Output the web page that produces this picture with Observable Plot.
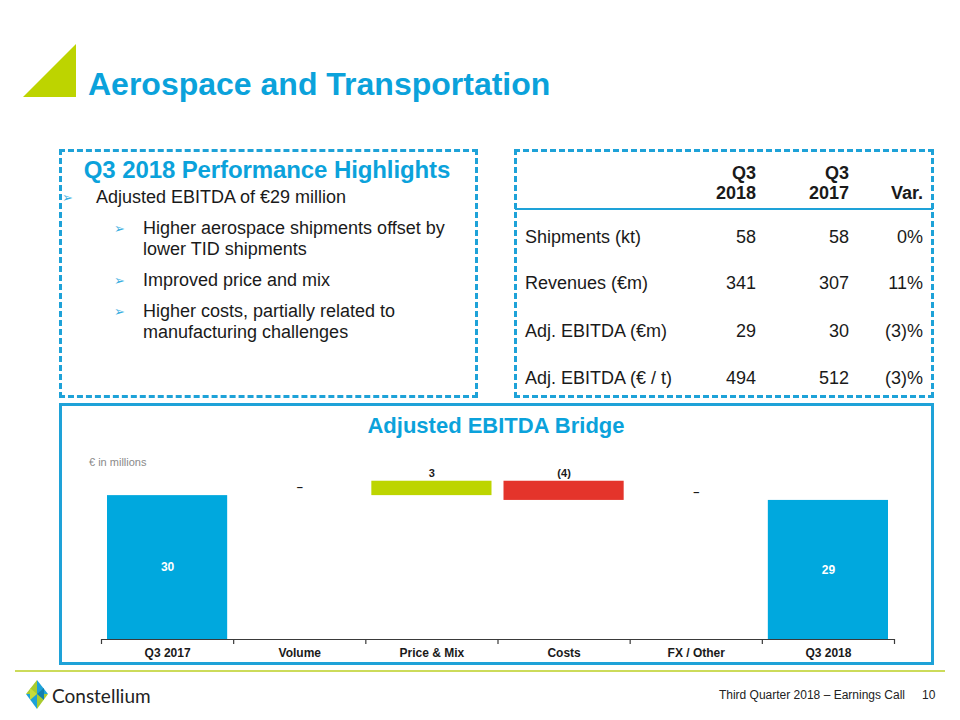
<!DOCTYPE html>
<html>
<head>
<meta charset="utf-8">
<script src="https://cdn.jsdelivr.net/npm/d3@7"></script>
<script src="https://cdn.jsdelivr.net/npm/@observablehq/plot@0.6"></script>
<style>
  html, body { margin: 0; padding: 0; background: #fff; }
  body { width: 960px; height: 720px; position: relative; overflow: hidden;
         font-family: "Liberation Sans", Arial, sans-serif; color: #1a1a1a; }
  .abs { position: absolute; white-space: nowrap; }
  .t { line-height: 22px; height: 22px; font-size: 18px; }
  .r { text-align: right; }
  .b { font-weight: bold; }
  .dash { position: absolute; border: 3px dashed #1EA2D8; box-sizing: border-box; }
  .arrow { color: #3AAEDF; font-family: "DejaVu Sans", sans-serif; font-size: 13px; line-height: 22px; }
</style>
</head>
<body>
<!-- title -->
<svg class="abs" style="left:0;top:0" width="100" height="110">
  <polygon points="23,97 76,44 76,97" fill="#BDD400"></polygon>
</svg>
<div class="abs b" style="left:88px;top:64px;font-size:32px;line-height:40px;color:#0BA2DB;">Aerospace and Transportation</div>

<!-- highlights box -->
<div class="dash" style="left:59px;top:149px;width:419px;height:249px;"></div>
<div class="abs b" style="left:60px;width:414px;text-align:center;top:156px;font-size:24px;line-height:28px;color:#0BA2DB;letter-spacing:-0.1px;">Q3 2018 Performance Highlights</div>
<div class="abs arrow" style="left:62px;top:187px;">➢</div>
<div class="abs t" style="left:96px;top:186px;">Adjusted EBITDA of €29 million</div>
<div class="abs arrow" style="left:114px;top:218px;">➢</div>
<div class="abs t" style="left:143px;top:217px;">Higher aerospace shipments offset by</div>
<div class="abs t" style="left:143px;top:238px;">lower TID shipments</div>
<div class="abs arrow" style="left:114px;top:270px;">➢</div>
<div class="abs t" style="left:143px;top:269px;">Improved price and mix</div>
<div class="abs arrow" style="left:114px;top:301px;">➢</div>
<div class="abs t" style="left:143px;top:300px;">Higher costs, partially related to</div>
<div class="abs t" style="left:143px;top:321px;">manufacturing challenges</div>

<!-- table box -->
<div class="dash" style="left:514px;top:149px;width:420px;height:249px;"></div>
<div id="table"></div>

<!-- chart frame -->
<div id="chart" class="abs" style="left:60px;top:404px;width:872px;height:260px;"></div>
<div class="abs b" style="left:60px;width:872px;text-align:center;top:412px;font-size:22px;line-height:28px;color:#0BA2DB;">Adjusted EBITDA Bridge</div>
<div class="abs" style="left:89px;top:455px;font-size:11px;line-height:14px;color:#8a8a8a;">€ in millions</div>
<div class="abs" style="left:59px;top:403px;width:875px;height:262px;border:3px solid #1EA2D8;box-sizing:border-box;pointer-events:none;"></div>

<!-- footer -->
<div class="abs" style="left:15px;top:670px;width:930px;height:2px;background:#CCDB5A;"></div>
<svg class="abs" style="left:24px;top:678px" width="26" height="34">
  <polygon points="13,2 24,16 13,16" fill="#1EA2D8"></polygon>
  <polygon points="13,2 2,16 13,16" fill="#A9CB2E"></polygon>
  <polygon points="2,16 13,16 13,31" fill="#1EA2D8"></polygon>
  <polygon points="13,16 24,16 13,31" fill="#A9CB2E"></polygon>
  <polygon points="6,10 13,16 6,22" fill="#C7DC3A"></polygon>
  <polygon points="13,16 20,10 20,22" fill="#127FAF"></polygon>
</svg>
<div class="abs" style="left:52px;top:684px;font-family:Lato, 'Open Sans', sans-serif;font-size:19px;line-height:24px;color:#222;">Constellium</div>
<div class="abs" style="right:55px;top:688px;font-size:12px;line-height:14px;color:#222;">Third Quarter 2018 – Earnings Call</div>
<div class="abs" style="left:922px;top:688px;font-size:12px;line-height:14px;color:#222;">10</div>

<script>
// ---------- table data ----------
const tableColumns = ["Q3\n2018", "Q3\n2017", "Var."];
const tableRows = ["Shipments (kt)", "Revenues (€m)", "Adj. EBITDA (€m)", "Adj. EBITDA (€ / t)"];
const q3_2018 = ["58", "341", "29", "494"];
const q3_2017 = ["58", "307", "30", "512"];
const variation = ["0%", "11%", "(3)%", "(3)%"];

// ---------- chart data ----------
const categories = ["Q3 2017", "Volume", "Price & Mix", "Costs", "FX / Other", "Q3 2018"];
const values = [30, 0, 3, -4, 0, 29];
const kinds = ["total", "delta", "delta", "delta", "delta", "total"];
const valueLabels = ["30", "–", "3", "(4)", "–", "29"];

// ---------- build table ----------
(function () {
  const host = document.getElementById("table");
  const colRight = [756, 849, 923];
  const rowCenters = [237, 283, 331, 378];
  function add(txt, style, cls) {
    const d = document.createElement("div");
    d.className = "abs t " + (cls || "");
    d.textContent = txt;
    Object.assign(d.style, style);
    host.appendChild(d);
  }
  tableColumns.forEach((c, j) => {
    const lines = c.split("\n");
    const right = (960 - colRight[j]) + "px";
    if (lines.length === 2) {
      add(lines[0], { right, top: (173 - 11) + "px" }, "b r");
      add(lines[1], { right, top: (193 - 11) + "px" }, "b r");
    } else {
      add(lines[0], { right, top: (193 - 11) + "px" }, "b r");
    }
  });
  const rule = document.createElement("div");
  rule.className = "abs";
  Object.assign(rule.style, { left: "515px", top: "208px", width: "418px", height: "2px", background: "#1EA2D8" });
  host.appendChild(rule);
  tableRows.forEach((r, i) => {
    const top = (rowCenters[i] - 11) + "px";
    add(r, { left: "525px", top });
    [q3_2018, q3_2017, variation].forEach((col, j) => {
      add(col[i], { right: (960 - colRight[j]) + "px", top }, "r");
    });
  });
})();

// ---------- waterfall ----------
let running = 0;
const bars = categories.map((cat, i) => {
  let y1, y2;
  if (kinds[i] === "total") { y1 = 0; y2 = values[i]; running = values[i]; }
  else { y1 = running; y2 = running + values[i]; running = y2; }
  const color = kinds[i] === "total" ? "#00A8DE" : (values[i] >= 0 ? "#BDD500" : "#E4342B");
  return { i, cat, y1, y2, color, label: valueLabels[i], kind: kinds[i] };
});
const totals = bars.filter(d => d.kind === "total");
const deltas = bars.filter(d => d.kind === "delta");
const boundaries = d3.range(categories.length + 1);

const chart = Plot.plot({
  width: 872,
  height: 260,
  marginLeft: 41,
  marginRight: 38,
  marginTop: 0,
  marginBottom: 25,
  style: { background: "transparent", fontFamily: "'Liberation Sans', Arial, sans-serif" },
  x: { domain: [0, categories.length], axis: null, label: null },
  y: { domain: [0, 49], axis: null, label: null },
  marks: [
    Plot.rectY(bars.filter(d => d.y1 !== d.y2), {
      x1: "i", x2: d => d.i + 1, y1: "y1", y2: "y2", fill: "color",
      insetLeft: 6, insetRight: 6
    }),
    Plot.ruleY([0], { stroke: "#3a3a3a", strokeWidth: 1.2 }),
    Plot.axisX(boundaries, { tickSize: 5, tickFormat: () => "", label: null, stroke: "#3a3a3a", strokeWidth: 1.2 }),
    Plot.text(bars, {
      x: d => d.i + 0.5, y: 0, text: "cat", dy: 14,
      fontSize: 12, fontWeight: "bold", fill: "#1a1a1a"
    }),
    Plot.text(deltas, {
      x: d => d.i + 0.5, y: d => Math.max(d.y1, d.y2), text: "label", dy: -8,
      fontSize: 11, fontWeight: "bold", fill: "#1a1a1a"
    }),
    Plot.text(totals, {
      x: d => d.i + 0.5, y: d => d.y2 / 2, text: "label",
      fontSize: 12, fontWeight: "bold", fill: "white"
    })
  ]
});
document.getElementById("chart").appendChild(chart);
</script>
</body>
</html>
